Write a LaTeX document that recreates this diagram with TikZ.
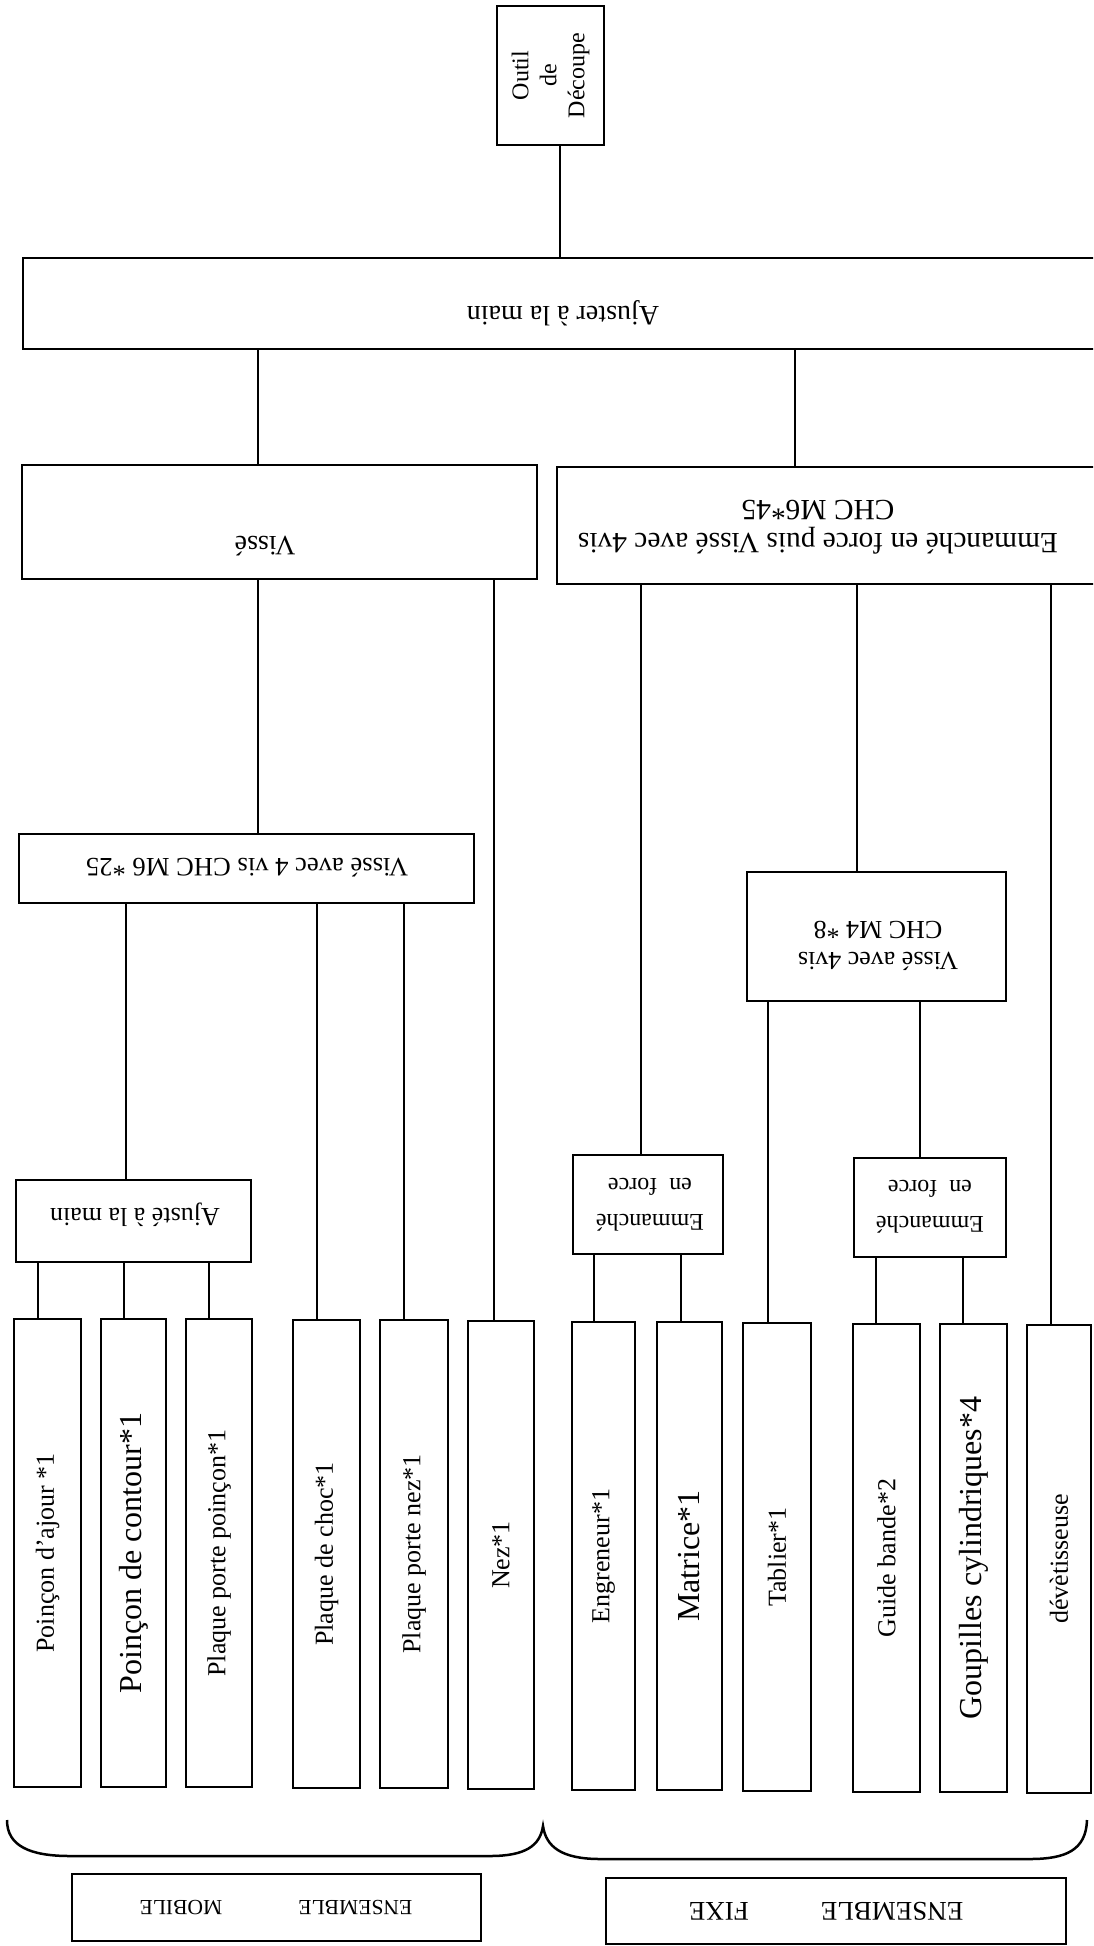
\documentclass[tikz,border=0pt]{standalone}
\usepackage{fontspec}
\setmainfont{Liberation Serif}
\usetikzlibrary{fit}
\tikzset{
  bx/.style={draw, line width=1.3pt, inner sep=0pt},
  conn/.style={line width=1.25pt},
  txt/.style={inner sep=0pt, align=center},
  updown/.style={txt, rotate=180},
  vert/.style={txt, rotate=90},
  fA/.style={font=\fontsize{12pt}{14pt}\selectfont},
  fB/.style={font=\fontsize{13pt}{15.5pt}\selectfont},
  fC/.style={font=\fontsize{14pt}{16pt}\selectfont},
  fD/.style={font=\fontsize{16pt}{18pt}\selectfont},
  fE/.style={font=\fontsize{12pt}{18pt}\selectfont},
}
\newcommand\tlink[3]{\coordinate (k-#2-#3) at (#1,0); \draw[conn] (k-#2-#3 |- #2.south) -- (k-#2-#3 |- #3.north);}
\begin{document}
\begin{tikzpicture}[x=0.5pt,y=-0.5pt]
\useasboundingbox (0,0) rectangle (1093,1946);
\fill[white] (0,0) rectangle (1093,1946);
\clip (0,0) rectangle (1093,1946);

% top
\node[bx, fit={(497,6) (604,145)}] (outil) {};
\node[vert, fA] (toutil) at (outil.center) {Outil\\de\\Découpe};

\node[bx, fit={(23,258) (1110,349)}] (aj) {};
\node[updown, fC] (taj) at (563,313) {Ajuster à la main};

\node[bx, fit={(22,465) (537,579)}] (visse) {};
\node[updown, fC] (tvisse) at (265,546) {Vissé};

\node[bx, fit={(557,467) (1110,584)}] (emm) {};
\node[updown, font=\fontsize{14.7pt}{16.5pt}\selectfont] (temm) at (818,527) {Emmanché en force puis Vissé avec 4vis\\CHC M6*45};

\node[bx, fit={(19,834) (474,903)}] (v4) {};
\node[updown, font=\fontsize{13.3pt}{15.5pt}\selectfont] (tv4) at (247,868) {Vissé avec 4 vis CHC M6 *25};

\node[bx, fit={(747,872) (1006,1001)}] (v4m) {};
\node[updown, fB] (tv4m) at (878,946) {Vissé avec 4vis\\CHC M4 *8};

\node[bx, fit={(16,1180) (251,1262)}] (ajm) {};
\node[updown, fB] (tajm) at (135,1215) {Ajusté à la main};

\node[bx, fit={(573,1155) (723,1254)}] (eml) {};
\node[updown, fE] (teml) at (650,1205) {Emmanché\\en\ \ force};

\node[bx, fit={(854,1158) (1006,1257)}] (emr) {};
\node[updown, fE] (temr) at (930,1207) {Emmanché\\en\ \ force};

% leaves
\node[bx, fit={(14,1319) (81,1787)}] (l1) {};
\node[vert, fB] at (l1.center) {Poinçon d’ajour *1};
\node[bx, fit={(101,1319) (166,1787)}] (l2) {};
\node[vert, fD] at (l2.center) {Poinçon de contour*1};
\node[bx, fit={(186,1319) (252,1787)}] (l3) {};
\node[vert, fB] at (l3.center) {Plaque porte poinçon*1};
\node[bx, fit={(293,1320) (360,1788)}] (l4) {};
\node[vert, fB] at (l4.center) {Plaque de choc*1};
\node[bx, fit={(380,1320) (448,1788)}] (l5) {};
\node[vert, fB] at (l5.center) {Plaque porte nez*1};
\node[bx, fit={(468,1321) (534,1789)}] (l6) {};
\node[vert, fB] at (l6.center) {Nez*1};
\node[bx, fit={(572,1322) (635,1790)}] (l7) {};
\node[vert, fB] at (l7.center) {Engreneur*1};
\node[bx, fit={(657,1322) (722,1790)}] (l8) {};
\node[vert, fD] at (l8.center) {Matrice*1};
\node[bx, fit={(743,1323) (811,1791)}] (l9) {};
\node[vert, fB] at (l9.center) {Tablier*1};
\node[bx, fit={(853,1324) (920,1792)}] (l10) {};
\node[vert, fB] at (l10.center) {Guide bande*2};
\node[bx, fit={(940,1324) (1007,1792)}] (l11) {};
\node[vert, fD] at (l11.center) {Goupilles cylindriques*4};
\node[bx, fit={(1027,1325) (1091,1793)}] (l12) {};
\node[vert, fB] at (l12.center) {dévètisseuse};

% connectors
\tlink{560}{outil}{aj}
\tlink{258}{aj}{visse}
\tlink{795}{aj}{emm}
\tlink{258}{visse}{v4}
\tlink{494}{visse}{l6}
\tlink{641}{emm}{eml}
\tlink{857}{emm}{v4m}
\tlink{1051}{emm}{l12}
\tlink{126}{v4}{ajm}
\tlink{317}{v4}{l4}
\tlink{404}{v4}{l5}
\tlink{768}{v4m}{l9}
\tlink{920}{v4m}{emr}
\tlink{38}{ajm}{l1}
\tlink{124}{ajm}{l2}
\tlink{209}{ajm}{l3}
\tlink{594}{eml}{l7}
\tlink{681}{eml}{l8}
\tlink{876}{emr}{l10}
\tlink{963}{emr}{l11}

% braces
\draw[conn] (7,1820) .. controls (7,1846) and (30,1856) .. (70,1856) -- (490,1856)
  .. controls (525,1856) and (540,1846) .. (543,1826)
  .. controls (546,1847) and (562,1859) .. (600,1859) -- (1030,1859)
  .. controls (1066,1859) and (1086,1850) .. (1087,1820);

% bottom boxes
\node[bx, fit={(72,1874) (481,1941)}] (mob) {};
\node[updown, font=\fontsize{10.8pt}{13pt}\selectfont] (tmob) at (276,1908) {ENSEMBLE\hspace{38pt}MOBILE};
\node[bx, fit={(606,1878) (1066,1944)}] (fixe) {};
\node[updown, font=\fontsize{13.5pt}{15pt}\selectfont] (tfixe) at (826,1911) {ENSEMBLE\hspace{36pt}FIXE};
\end{tikzpicture}
\end{document}
